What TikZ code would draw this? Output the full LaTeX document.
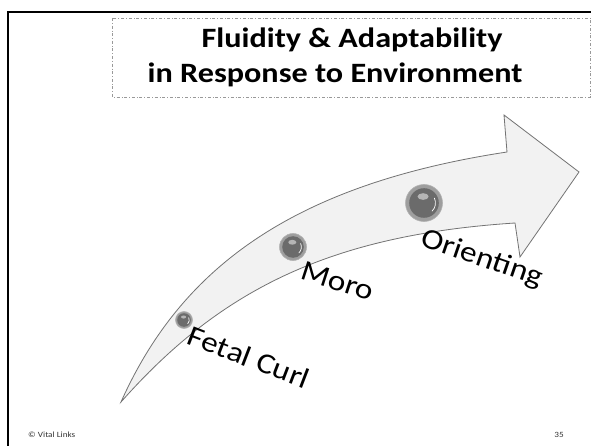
\documentclass[tikz,border=0pt]{standalone}
\usepackage{fontspec}
\setmainfont{Carlito}
\newfontfamily\widefont[FakeStretch=1.15]{Carlito}
\begin{document}
\begin{tikzpicture}[x=1pt,y=-1pt,
  frameline/.style={line width=2.6pt,black},
  titlebox/.style={draw=gray!80,line width=0.6pt,dash dot},
  titletext/.style={font=\widefont\fontsize{28}{30}\selectfont\bfseries,anchor=base},
  shaft/.style={fill=black!5,draw=black!55,line width=0.8pt,line join=miter},
  stage/.style={font=\widefont\fontsize{29}{30}\selectfont,inner sep=0pt},
  footer/.style={font=\widefont\fontsize{8}{9}\selectfont,text=black!80,inner sep=0pt},
  ballrim/.style={fill=black!38,draw=black!30,line width=0.6pt},
  ballcore/.style={fill=black!58}]
\useasboundingbox (0,0) rectangle (591,446);
\fill[white] (0,0) rectangle (591,446);

% slide frame (left and top edges)
\draw[frameline] (8,446) -- (8,12) -- (591,12);

% heading box
\draw[titlebox] (112,18) rectangle (590,97);
\node[titletext] (t1) at (352,48) {Fluidity \& Adaptability};
\node[titletext] (t2) at (335,83) {in Response to Environment};

% curved developmental arrow
\draw[shaft] (121,402) .. controls (180,270) and (290,185) .. (507,152)
  -- (504,115) -- (579,172) -- (520,257) -- (515,223)
  .. controls (330,235) and (220,290) .. (121,402) -- cycle;

% stage markers
\foreach \n/\x/\y/\r in {b1/184/320/8.5, b2/293/247/13.5, b3/424/203/18.5}{
  \coordinate (\n) at (\x,\y);
  \fill[ballrim] (\n) circle (\r);
  \fill[ballcore] (\n) circle ({0.8*\r});
  \draw[white,line width=0.7pt,line cap=round]
    ([shift={(-25:{0.62*\r})}]\n) arc (-25:45:{0.62*\r});
  \fill[white,opacity=0.5] ([shift={(-0.05*\r,-0.35*\r)}]\n) ellipse ({0.3*\r} and {0.18*\r});
}

% stage labels
\node[stage,rotate=-21] (fc) at (249,357) {Fetal Curl};
\node[stage,rotate=-18] (mo) at (338,281) {Moro};
\node[stage,rotate=-19] (or) at (482,259) {Orienting};

% footer
\node[footer,anchor=west] (cr) at (28,435) {© Vital Links};
\node[footer,anchor=east] (pg) at (564,435) {35};
\end{tikzpicture}
\end{document}
